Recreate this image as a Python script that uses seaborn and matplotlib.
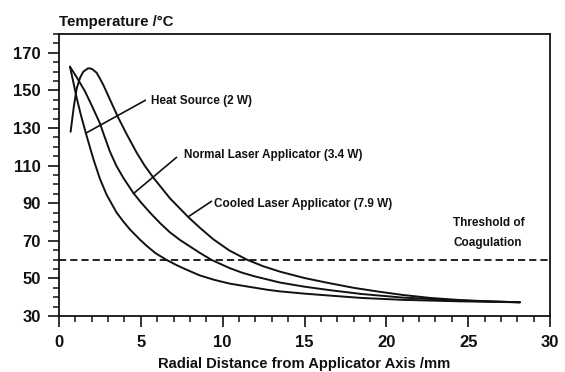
import matplotlib
matplotlib.use("Agg")
import matplotlib.pyplot as plt
import seaborn as sns
import pandas as pd
from matplotlib.ticker import MultipleLocator

sns.set_theme(style="white")
plt.rcParams['font.family'] = ['Liberation Sans', 'DejaVu Sans']

# Heat Source (2 W)
heat_x = [0.67, 0.85, 1.08, 1.35, 1.65, 2.1, 2.5, 2.91, 3.52, 3.9, 4.34, 4.95, 5.36,
          5.9, 6.58, 7.2, 7.8, 8.6, 9.5, 10.45, 11.5, 12.7, 13.5, 15.0, 16.5, 18.5,
          21.0, 24.5, 28.16]
heat_t = [162.6, 155.5, 146, 136.5, 127, 113.5, 103, 94.5, 85, 80.6, 76.0, 70.6, 67.3,
          63.4, 59.8, 57, 54.6, 51.6, 49.2, 47.2, 45.7, 44.0, 43.1, 41.9, 40.9, 39.6,
          38.6, 37.8, 37.3]

# Normal Laser Applicator (3.4 W)
normal_x = [0.67, 1.08, 1.59, 2.0, 2.5, 2.8, 3.11, 3.5, 3.93, 4.54, 5.0, 5.56, 6.2,
            6.78, 7.4, 8.0, 8.6, 9.33, 10.45, 11.2, 12.0, 13.5, 15.0, 16.5, 18.5,
            21.0, 24.5, 28.16]
normal_t = [162.6, 157, 149.5, 142, 132.5, 125, 117.5, 110, 103.5, 95.5, 90.5, 85.0,
            79.2, 74.5, 70.4, 67, 63.6, 59.8, 55.4, 53, 51, 47.8, 45.6, 43.8, 41.7,
            39.8, 38.2, 37.3]

# Cooled Laser Applicator (7.9 W)
cooled_x = [0.71, 0.9, 1.08, 1.3, 1.49, 1.79, 2.0, 2.3, 2.5, 2.71, 3.11, 3.62, 4.13,
            4.75, 5.25, 5.8, 6.78, 7.9, 8.6, 9.43, 10.4, 11.5, 12.5, 13.5, 15.0, 16.5,
            18.0, 19.5, 21.0, 22.7, 24.5, 26.3, 28.16]
cooled_t = [128, 141, 151, 157, 160, 161.8, 161.5, 159.4, 156.3, 152.9, 145.2, 135.5,
            126.8, 116.8, 109.8, 103.2, 92.6, 82.6, 77.0, 70.8, 64.9, 59.9, 56.4, 53.6,
            50.2, 47.5, 45.0, 43.0, 41.2, 39.6, 38.5, 37.8, 37.3]

threshold = 60

frames = []
for name, xs, ts in [("Heat Source (2 W)", heat_x, heat_t),
                     ("Normal Laser Applicator (3.4 W)", normal_x, normal_t),
                     ("Cooled Laser Applicator (7.9 W)", cooled_x, cooled_t)]:
    frames.append(pd.DataFrame({"x": xs, "t": ts, "curve": name}))
df = pd.concat(frames, ignore_index=True)

fig = plt.figure(figsize=(5.65, 3.72), dpi=100)
ax = fig.add_axes([0.1044, 0.1505, 0.8691, 0.7581])

sns.lineplot(data=df, x="x", y="t", hue="curve", palette=["#111111"] * 3,
             sort=False, estimator=None, legend=False, linewidth=1.4, ax=ax)

ax.axhline(threshold, color="#111111", linewidth=1.3, dashes=(4, 2.2))

ax.set_xlim(0, 30)
ax.set_ylim(30, 180)
ax.xaxis.set_major_locator(MultipleLocator(5))
ax.xaxis.set_minor_locator(MultipleLocator(1))
ax.set_yticks([30, 50, 70, 90, 110, 130, 150, 170])
ax.yaxis.set_minor_locator(MultipleLocator(5))
ax.tick_params(axis="both", which="major", direction="out", length=8, width=1.2,
               color="#111111", labelsize=12, labelcolor="#111111")
ax.tick_params(axis="both", which="minor", direction="out", length=4.5, width=1.1,
               color="#111111")
ax.tick_params(axis="x", which="major", pad=6)
ax.tick_params(axis="y", which="major", pad=5)
ax.tick_params(axis="both", which="both", bottom=True, left=True, top=False, right=False)
for lab in ax.get_xticklabels() + ax.get_yticklabels():
    lab.set_fontweight("bold")

for sp in ax.spines.values():
    sp.set_color("#111111")
    sp.set_linewidth(1.3)

ax.set_xlabel("Radial Distance from Applicator Axis /mm", fontsize=10.6,
              fontweight="bold", color="#111111")
ax.xaxis.set_label_coords(0.5, -0.145)
ax.set_ylabel("")
fig.text(0.1044, 0.942, "Temperature /°C", fontsize=10.8, fontweight="bold",
         color="#111111", ha="left", va="center")

# pointer lines and labels
ptr_style = dict(color="#111111", lw=1.2, solid_capstyle="butt")
ax.plot([1.65, 5.31], [127.3, 144.9], **ptr_style)
ax.plot([4.52, 7.21], [94.9, 114.6], **ptr_style)
ax.plot([7.88, 9.35], [82.7, 91.2], **ptr_style)

tkw = dict(fontsize=8.5, fontweight="bold", color="#111111", ha="left", va="center")
ax.text(5.6, 144.5, "Heat Source (2 W)", **tkw)
ax.text(7.66, 115.5, "Normal Laser Applicator (3.4 W)", **tkw)
ax.text(9.5, 89.6, "Cooled Laser Applicator (7.9 W)", **tkw)
ax.text(24.1, 74.0, "Threshold of\nCoagulation", linespacing=1.85, **tkw)

fig.savefig("out.png", dpi=100)
